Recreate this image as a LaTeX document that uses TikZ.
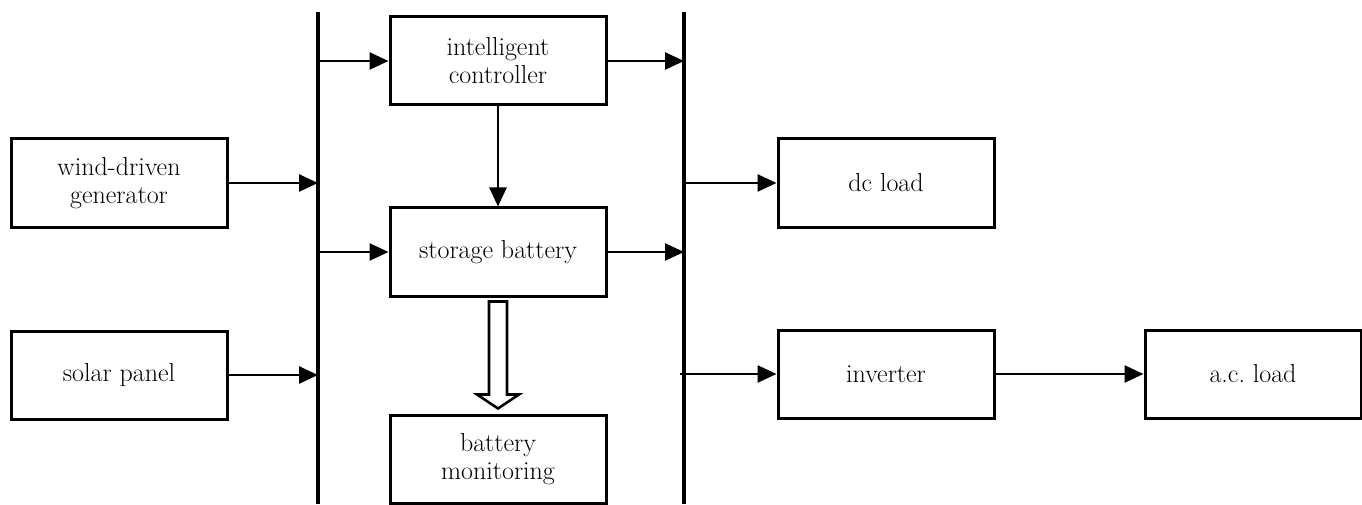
\documentclass[tikz,border=0pt]{standalone}
\usetikzlibrary{arrows.meta,calc}
\begin{document}
\begin{tikzpicture}[x=1pt,y=-1pt,
  box/.style={draw,line width=3pt,minimum width=216pt,minimum height=88pt,align=center,inner sep=0pt,font=\fontsize{26}{28}\selectfont},
  bus/.style={line width=4pt},
  arr/.style={line width=2.6pt,-{Triangle[length=19pt,width=17pt]}}]
\useasboundingbox (0,0) rectangle (1362,505);
% buses
\coordinate (L1) at (318,12); \coordinate (L2) at (318,504);
\coordinate (R1) at (684,12); \coordinate (R2) at (684,504);
\draw[bus] (L1) -- (L2);
\draw[bus] (R1) -- (R2);
% boxes
\node[box] (wg) at (119,183) {wind-driven\\generator};
\node[box] (sp) at (119,375) {solar panel};
\node[box] (ic) at (498,61) {intelligent\\controller};
\node[box] (sb) at (498,252) {storage battery};
\node[box] (bm) at (498,459) {battery\\monitoring};
\node[box] (dc) at (886,183) {dc load};
\node[box] (inv) at (886,374) {inverter};
\node[box] (ac) at (1253,374) {a.c.\ load};
% arrows
\draw[arr] (wg.east) -- (wg.east -| L1);
\draw[arr] (sp.east) -- (sp.east -| L1);
\draw[arr] (ic.west -| L1) -- (ic.west);
\draw[arr] (sb.west -| L1) -- (sb.west);
\draw[arr] (ic.east) -- (ic.east -| R1);
\draw[arr] (sb.east) -- (sb.east -| R1);
\draw[arr] (ic.south) -- (sb.north);
\draw[arr] (dc.west -| R1) -- (dc.west);
\draw[arr] ($(inv.west -| R1)+(-4,0)$) -- (inv.west);
\draw[arr] (inv.east) -- (ac.west);
% hollow arrow
\draw[line width=2.6pt,line join=miter,fill=white]
  ($(sb.south)+(-9,4)$) -- ($(sb.south)+(9,4)$) -- ($(sb.south)+(9,97)$)
  -- ($(sb.south)+(21,97)$) -- ($(bm.north)+(0,-5)$) -- ($(sb.south)+(-21,97)$)
  -- ($(sb.south)+(-9,97)$) -- cycle;
\end{tikzpicture}
\end{document}
